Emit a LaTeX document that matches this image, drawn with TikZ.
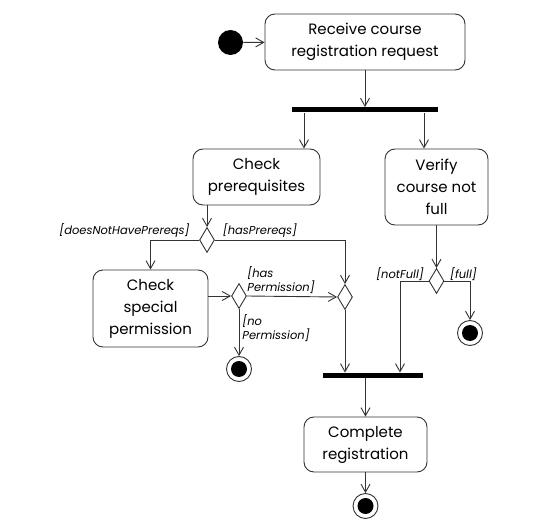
\documentclass[tikz,border=0pt]{standalone}
\usepackage{fontspec}
\setmainfont{Poppins}
\usetikzlibrary{shapes.geometric}
\usetikzlibrary{arrows.meta}

\begin{document}
\begin{tikzpicture}[x=1pt, y=-1pt, line width=0.9pt,
        action/.style={draw=black!80, rounded corners=10pt, align=center, inner sep=0pt,
            font=\fontsize{15}{22}\selectfont},
        guard/.style={inner sep=0pt, align=left, font=\fontsize{11.5}{14}\selectfont\itshape},
        choice/.style={diamond, draw=black!80, fill=white, minimum width=15pt, minimum height=25pt, inner sep=0pt},
        bar/.style={fill=black, minimum height=5pt, inner sep=0pt},
        startnode/.style={circle, fill=black, minimum size=25pt, inner sep=0pt},
        endnode/.style={circle, draw=black!80, minimum size=25pt, inner sep=0pt,
            path picture={\fill[black] (path picture bounding box.center) circle (8pt);}},
        flow/.style={draw=black!80, -{Straight Barb[length=8pt, width=9pt]}}]
        \useasboundingbox (0,0) rectangle (560,532);

        \node[startnode] (start) at (230.5,42.5) {};
        \node[action, minimum width=200pt, minimum height=56pt] (receive) at (365,42)
            {Receive course\\registration request};
        \node[bar, minimum width=146pt] (fork) at (365,110) {};
        \node[action, minimum width=127pt, minimum height=56pt] (prereq) at (256.5,177)
            {Check\\prerequisites};
        \node[action, minimum width=103pt, minimum height=76pt] (verify) at (436.5,187)
            {Verify\\course not\\full};
        \node[choice] (dprereq) at (207,240) {};
        \node[action, minimum width=115pt, minimum height=77pt] (special) at (150.5,308.5)
            {Check\\special\\permission};
        \node[choice] (dperm) at (239,296) {};
        \node[choice] (dmerge) at (345,297) {};
        \node[choice] (dfull) at (436.5,281) {};
        \node[endnode] (denied) at (239,369) {};
        \node[endnode] (full) at (470,333) {};
        \node[bar, minimum width=100pt] (join) at (373,375.5) {};
        \node[action, minimum width=123pt, minimum height=55pt] (complete) at (365.5,444.5)
            {Complete\\registration};
        \node[endnode] (done) at (365.5,506) {};

        \node[guard] (gnoprereq) at (124.5,230.5) {[doesNotHavePrereqs]};
        \node[guard] (gprereq) at (260,230.5) {[hasPrereqs]};
        \node[guard, anchor=west] (gperm) at (247,280) {[has\\Permission]};
        \node[guard, anchor=west] (gnoperm) at (242,328.5) {[no\\Permission]};
        \node[guard] (gnotfull) at (400,274.5) {[notFull]};
        \node[guard] (gfull) at (463.5,274.5) {[full]};

        \draw[flow] (start) -- (receive);
        \draw[flow] (receive) -- (fork);
        \draw[flow] (fork.south -| 304,0) -- (prereq.north -| 304,0);
        \draw[flow] (fork.south -| 424,0) -- (verify.north -| 424,0);
        \draw[flow] (prereq.south -| dprereq.north) -- (dprereq.north);
        \draw[flow] (dprereq.west) -| (special.north);
        \draw[flow] (dprereq.east) -| (dmerge.north);
        \draw[flow] (special.east |- dperm.west) -- (dperm.west);
        \draw[flow] (dperm.east) -- (dmerge.west);
        \draw[flow] (dperm.south) -- (denied.north);
        \draw[flow] (dmerge.south) -- (dmerge.south |- join.north);
        \draw[flow] (verify.south) -- (dfull.north);
        \draw[flow] (dfull.west) -| (join.north -| 400,0);
        \draw[flow] (dfull.east) -| (full.north);
        \draw[flow] (join.south -| complete.north) -- (complete.north);
        \draw[flow] (complete) -- (done);
    \end{tikzpicture}
\end{document}
